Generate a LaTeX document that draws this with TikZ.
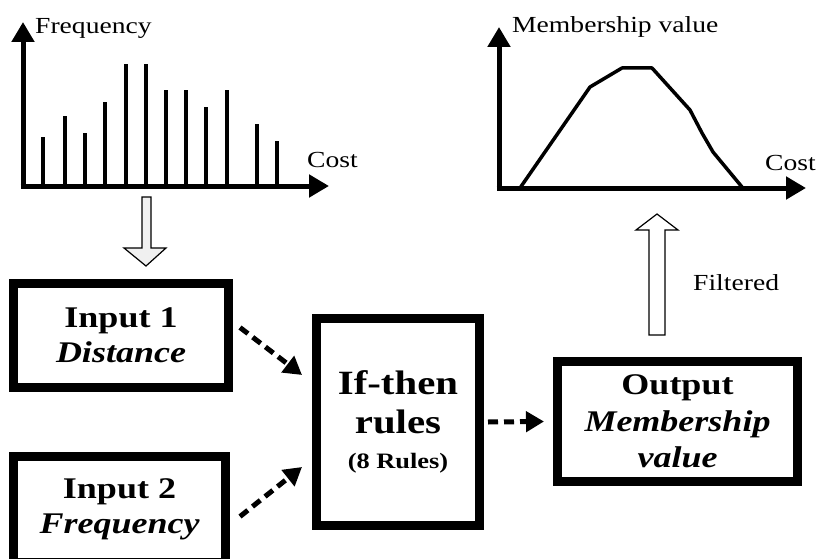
\documentclass[tikz,border=0pt]{standalone}
\usepackage{fontspec}
\setmainfont{Liberation Serif}[FakeStretch=1.2]
\usetikzlibrary{arrows.meta}

\begin{document}
\begin{tikzpicture}[
    x=1pt, y=-1pt,
    block/.style={
      draw,
      line width=9pt,
      fill=white,
      align=center,
      inner sep=0pt},
    bigtext/.style={font=\bfseries\fontsize{30}{35}\selectfont},
    axis/.style={line width=5pt, -{Triangle[length=20pt,width=22pt]}},
    bar/.style={line width=3.5pt},
    flow/.style={line width=5pt, dash pattern=on 10pt off 6pt,
      -{Triangle[length=18pt,width=20pt]}},
    label/.style={anchor=west, inner sep=0pt, font=\fontsize{23}{27}\selectfont},
    hollow/.style={draw, line width=1.2pt, line join=miter},
  ]
  \useasboundingbox (0,0) rectangle (819,559);
  \clip (0,0) rectangle (819,559);

  % histogram of the cost
  \draw[axis] (23,188) -- (23,22);
  \draw[axis] (20.5,186) -- (329,186);
  \foreach \x/\top in {43/137,65/116,85/133,105/102,126/64,146/64,
                       166/90,186/90,206/107,227/90,257/124,277/141}
    \draw[bar] (\x,186) -- (\x,\top);
  \node[label] (freq) at (35,28) {Frequency};
  \node[label] (costa) at (307,160) {Cost};

  % membership function
  \draw[axis] (499,190) -- (499,27);
  \draw[axis] (496.5,188) -- (806,188);
  \draw[line width=3.5pt, line join=round]
    (520,188) -- (590,87) -- (622,68) -- (652,68) -- (690,110)
    -- (702,133) -- (713,152) -- (742,187);
  \node[label] (memb) at (512,27) {Membership value};
  \node[label] (costb) at (765,163) {Cost};

  % block arrows
  \draw[hollow, fill=gray!12]
    (142,197) -- (151,197) -- (151,248) -- (166,248) -- (146,266)
    -- (124,248) -- (142,248) -- cycle;
  \draw[hollow, fill=white]
    (649,335) -- (649,230) -- (636,230) -- (657,214) -- (678,230)
    -- (665,230) -- (665,335) -- cycle;
  \node[label] (filt) at (693,283) {Filtered};

  % fuzzy system
  \node[block, bigtext, minimum width=215pt, minimum height=104pt]
    (in1) at (121,335.5) {Input 1\\\itshape Distance};
  \node[block, bigtext, minimum width=212pt, minimum height=106pt]
    (in2) at (119.5,509.5) {Input 2\\\itshape Frequency};
  \node[block, minimum width=163pt, minimum height=207pt,
        font=\bfseries\fontsize{34}{39}\selectfont]
    (rules) at (398,422) {If-then\\rules\\[-4pt]{\fontsize{22}{26}\selectfont(8 Rules)}};
  \node[block, bigtext, font=\bfseries\fontsize{30}{36.5}\selectfont,
        minimum width=240pt, minimum height=120pt]
    (out) at (677.5,421.5) {Output\\\itshape Membership\\\itshape value};

  \draw[flow] ([xshift=7pt,yshift=8pt]in1.east) -- ([xshift=-10pt,yshift=47pt]rules.west);
  \draw[flow] ([xshift=10pt,yshift=-7pt]in2.east) -- ([xshift=-10pt,yshift=-45pt]rules.west);
  \draw[flow] ([xshift=4pt]rules.east) -- ([xshift=-9pt]out.west);
\end{tikzpicture}
\end{document}
